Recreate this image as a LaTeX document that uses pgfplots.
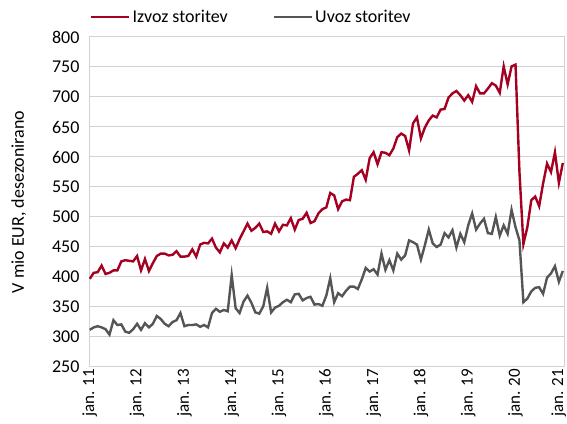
\documentclass[border=0pt]{standalone}
\usepackage{fontspec}
\setmainfont{Carlito}
\usepackage{pgfplots}
\usepackage{pgfplotstable}
\pgfplotsset{compat=1.18}
\definecolor{izred}{RGB}{165,0,33}
\definecolor{uvgray}{RGB}{85,85,85}
\definecolor{gridc}{RGB}{210,210,210}

\pgfplotstableread{
m iz uv
0 397 312
1 407 316
2 408 318
3 419 316
4 405 313
5 407 304
6 411 328
7 411 320
8 426 321
9 428 309
10 427 307
11 426 313
12 435 322
13 411 312
14 430 323
15 410 316
16 423 322
17 435 335
18 439 330
19 439 322
20 436 318
21 437 325
22 443 328
23 434 340
24 434 318
25 435 320
26 446 320
27 434 321
28 454 317
29 457 320
30 456 316
31 464 340
32 449 347
33 441 342
34 456 345
35 449 343
36 461 403
37 448 348
38 463 340
39 476 359
40 489 369
41 477 357
42 482 341
43 489 339
44 475 351
45 476 382
46 472 341
47 489 349
48 476 352
49 487 358
50 486 362
51 498 358
52 479 371
53 495 372
54 497 361
55 507 365
56 490 367
57 493 354
58 506 355
59 513 352
60 516 369
61 540 398
62 536 358
63 513 373
64 526 368
65 529 377
66 528 384
67 567 384
68 572 380
69 578 396
70 562 415
71 598 409
72 608 413
73 588 404
74 608 439
75 607 412
76 603 428
77 614 411
78 633 439
79 639 429
80 635 436
81 611 461
82 656 458
83 666 454
84 631 429
85 649 453
86 661 479
87 669 456
88 666 450
89 679 454
90 680 473
91 699 466
92 706 478
93 710 449
94 703 472
95 694 458
96 703 486
97 692 506
98 718 479
99 706 489
100 706 497
101 714 473
102 723 472
103 719 500
104 707 469
105 751 486
106 721 472
107 751 512
108 754 483
109 575 461
110 455 358
111 483 364
112 528 376
113 534 382
114 518 383
115 556 372
116 589 399
117 575 406
118 608 418
119 557 392
120 590 410
}\data

\begin{document}
\begin{tikzpicture}
\path[use as bounding box] (0,0) rectangle (567bp,424bp);
\begin{axis}[
  at={(89bp,57bp)}, anchor=south west,
  scale only axis, width=475bp, height=330bp,
  xmin=-0.2, xmax=120.3, ymin=250, ymax=800,
  ytick={250,300,...,800},
  xtick={0,12,...,108},
  xticklabels={jan. 11,jan. 12,jan. 13,jan. 14,jan. 15,jan. 16,jan. 17,jan. 18,jan. 19,jan. 20},
  extra x ticks={120},
  extra x tick labels={jan. 21},
  extra x tick style={xticklabel style={yshift=4bp}},
  major tick length=0pt,
  ymajorgrids,
  grid style={gridc, line width=1bp},
  axis line style={gridc, line width=1bp},
  tick label style={font=\fontsize{18bp}{21bp}\selectfont, black},
  /pgf/number format/assume math mode=true,
  yticklabel style={xshift=-6bp},
  xticklabel style={font=\fontsize{17bp}{20bp}\selectfont, yshift=-1bp, rotate=90, anchor=east, inner sep=1bp},
  ylabel={V mio EUR, desezonirano},
  ylabel style={at={(axis description cs:-0.148,0.5)}, anchor=center, font=\fontsize{18bp}{21bp}\selectfont},
  legend columns=2,
  legend style={at={(axis description cs:0.002,1.0606)}, anchor=west, draw=none, fill=none, inner sep=0pt,
    font=\fontsize{18bp}{21bp}\selectfont,
    cells={anchor=west}},
  legend image code/.code={\draw[#1] (0bp,0bp) -- (38bp,0bp);},
]
\addplot[izred, line width=2.4bp] table[x=m,y=iz]{\data};
\addlegendentry{Izvoz storitev\hspace*{43bp}}
\addplot[uvgray, line width=2.4bp] table[x=m,y=uv]{\data};
\addlegendentry{Uvoz storitev}
\end{axis}
\end{tikzpicture}
\end{document}
